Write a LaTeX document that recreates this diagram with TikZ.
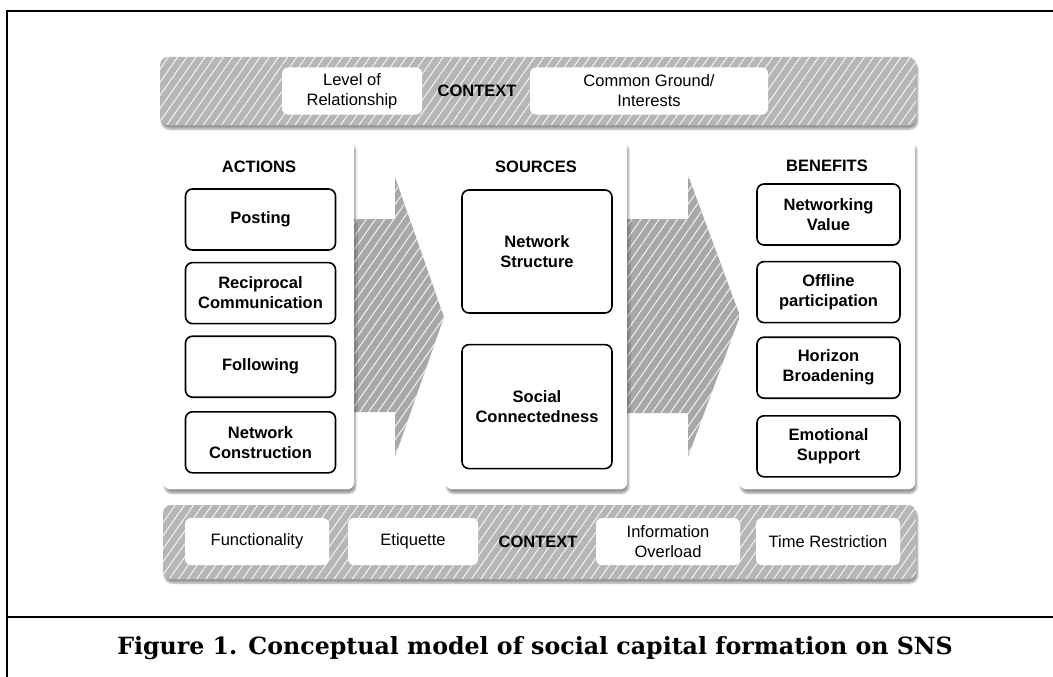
\documentclass[tikz,border=0pt]{standalone}
\usepackage{fontspec}
\setmainfont{Liberation Serif}
\setsansfont{Liberation Sans}
\newfontfamily\capfont{DejaVu Serif}
\usepackage{tikz}
\usetikzlibrary{positioning,patterns.meta,shadows.blur}
\definecolor{bandgray}{HTML}{B6B6B6}
\definecolor{arrowgray}{HTML}{A8A8A8}
\tikzstyle{hatch} = [pattern={Lines[angle=55,distance=7.5pt,line width=1pt]},
    pattern color=white!85!bandgray]
\tikzstyle{band} = [blur shadow={shadow xshift=1.5pt, shadow yshift=-4pt, shadow blur steps=6},
    hatch, preaction={fill=bandgray}, rounded corners=8pt]
\tikzstyle{bigarrow} = [hatch, preaction={fill=arrowgray}]
\tikzstyle{panel} = [fill=white, rounded corners=7pt, anchor=north west,
    blur shadow={shadow xshift=1.5pt, shadow yshift=-4pt, shadow blur steps=6}]
\tikzstyle{ctxbox} = [fill=white, rounded corners=6pt, minimum height=47pt,
    font=\sffamily\fontsize{16.5}{20}\selectfont, align=center]
\tikzstyle{item} = [draw, line width=1.6pt, fill=white, rounded corners=7pt,
    minimum width=150pt, minimum height=61pt, align=center,
    font=\sffamily\bfseries\fontsize{16.5}{20}\selectfont]
\tikzstyle{title} = [font=\sffamily\bfseries\fontsize{16.5}{19}\selectfont]

\begin{document}
\begin{tikzpicture}[x=1pt, y=-1pt, inner sep=0pt]
        \useasboundingbox (0,0) rectangle (1053,677);
        % frame and caption
        \draw [line width=2pt] (1053,11) -- (7,11) -- (7,677);
        \draw [line width=2pt] (7,617) -- (1053,617);
        \node [font=\capfont\bfseries\fontsize{23.7}{28}\selectfont] (caption) at (535,648)
            {Figure 1. Conceptual model of social capital formation on SNS};

        % context bands
        \path [band] (160,57) rectangle (916,125);
        \path [band] (163,505) rectangle (916,579);
        \node [ctxbox, minimum width=140pt] (level) at (352,91) {Level of\\Relationship};
        \node [title] (ctxtop) at (477,91) {CONTEXT};
        \node [ctxbox, minimum width=238pt] (common) at (649,91) {Common Ground/\\Interests};
        \node [ctxbox, minimum width=144pt] (function) at (257,541.5) {Functionality};
        \node [ctxbox, minimum width=130pt] (etiquette) at (413,541.5) {Etiquette};
        \node [title] (ctxbottom) at (538,542) {CONTEXT};
        \node [ctxbox, minimum width=144pt] (overload) at (668,541.5) {Information\\Overload};
        \node [ctxbox, minimum width=144pt] (timerestr) at (828,541.5) {Time Restriction};

        % the two big arrows go behind the panels
        \path [bigarrow] (330,219) -- (395,219) -- (395,177) -- (444,317)
            -- (395,457) -- (395,412) -- (330,412) -- cycle;
        \path [bigarrow] (600,219) -- (688,219) -- (688,175) -- (740,316)
            -- (688,457) -- (688,413) -- (600,413) -- cycle;

        % panels
        \node [panel, minimum width=191pt, minimum height=349pt] (actions) at (163,140) {};
        \node [panel, minimum width=182pt, minimum height=349pt] (sources) at (445,140) {};
        \node [panel, minimum width=176pt, minimum height=349pt] (benefits) at (739,140) {};

        % ACTIONS
        \node [title] (acttitle) at (259,167) {ACTIONS};
        \node [item] (posting) at (260.5,219.5) {Posting};
        \node [item, below=11pt of posting] (reciprocal) {Reciprocal\\Communication};
        \node [item, below=11pt of reciprocal] (following) {Following};
        \node [item, below=13pt of following] (construction) {Network\\Construction};

        % SOURCES
        \node [title] (srctitle) at (536,167) {SOURCES};
        \node [item, minimum height=123pt] (structure) at (537,251.5) {Network\\Structure};
        \node [item, minimum height=124pt, below=30pt of structure] (connected) {Social\\Connectedness};

        % BENEFITS
        \node [title] (bentitle) at (827,166) {BENEFITS};
        \node [item, minimum width=143pt] (networking) at (828.5,214.5) {Networking\\Value};
        \node [item, minimum width=143pt, below=15pt of networking] (offline) {Offline\\participation};
        \node [item, minimum width=143pt, below=13pt of offline] (horizon) {Horizon\\Broadening};
        \node [item, minimum width=143pt, below=16pt of horizon] (emotional) {Emotional\\Support};
\end{tikzpicture}
\end{document}
